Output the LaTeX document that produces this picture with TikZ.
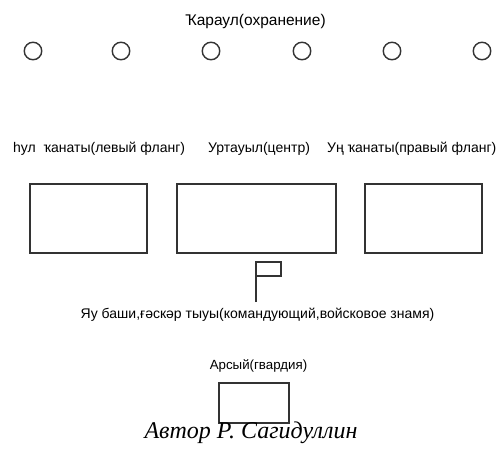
\documentclass[tikz,border=0pt]{standalone}
\usepackage{fontspec}
\setmainfont{Liberation Sans}
\newfontfamily\authorfont{Liberation Serif}
\definecolor{ink}{HTML}{333333}
\begin{document}
\begin{tikzpicture}[x=1pt,y=-1pt,
  lbl/.style={font=\fontsize{14}{16}\selectfont, text=black, inner sep=0pt},
  post/.style={circle, draw=ink, line width=1.4pt, minimum size=17.5pt, inner sep=0pt},
  unit/.style={draw=ink, line width=1.4pt, inner sep=0pt},
  flagline/.style={draw=ink, line width=1.2pt}]
\useasboundingbox (0,0) rectangle (499,451);
% title
\node[lbl, anchor=base, font=\fontsize{15.5}{18}\selectfont] (title) at (255.5,25) {Ҡараул(охранение)};
% guard posts
\foreach \i/\x in {1/33,2/121,3/211,4/302,5/392,6/482}
  \node[post] (c\i) at (\x,51) {};
% row labels
\node[lbl, anchor=base west] (lleft) at (13,152) {һул\ \ ҡанаты(левый фланг)};
\node[lbl, anchor=base west] (lcenter) at (208,152) {Уртауыл(центр)};
\node[lbl, anchor=base west] (lright) at (327,152) {Уң ҡанаты(правый фланг)};
% boxes
\node[unit, minimum width=117pt, minimum height=69pt] (bleft) at (88.5,218.5) {};
\node[unit, minimum width=159pt, minimum height=69pt] (bcenter) at (256.5,218.5) {};
\node[unit, minimum width=117pt, minimum height=69pt] (bright) at (423.5,218.5) {};
% flag
\coordinate (pbase) at (256,302);
\coordinate (ptop) at (256,262);
\draw[flagline] (pbase) -- (ptop) -- (281,262) -- (281,276) -- (256,276);
% commander label
\node[lbl, anchor=base] (lcmd) at (257.5,318) {Яу баши,ғәскәр тыуы(командующий,войсковое знамя)};
% guard
\node[lbl, anchor=base, font=\fontsize{13.3}{16}\selectfont] (lguard) at (258.5,369) {Арсый(гвардия)};
\node[unit, minimum width=70pt, minimum height=40pt] (bguard) at (254,403) {};
% author
\node[inner sep=0pt, anchor=base, font=\authorfont\itshape\fontsize{24}{28}\selectfont] (author) at (251,438) {Автор Р. Сагидуллин};
\end{tikzpicture}
\end{document}
